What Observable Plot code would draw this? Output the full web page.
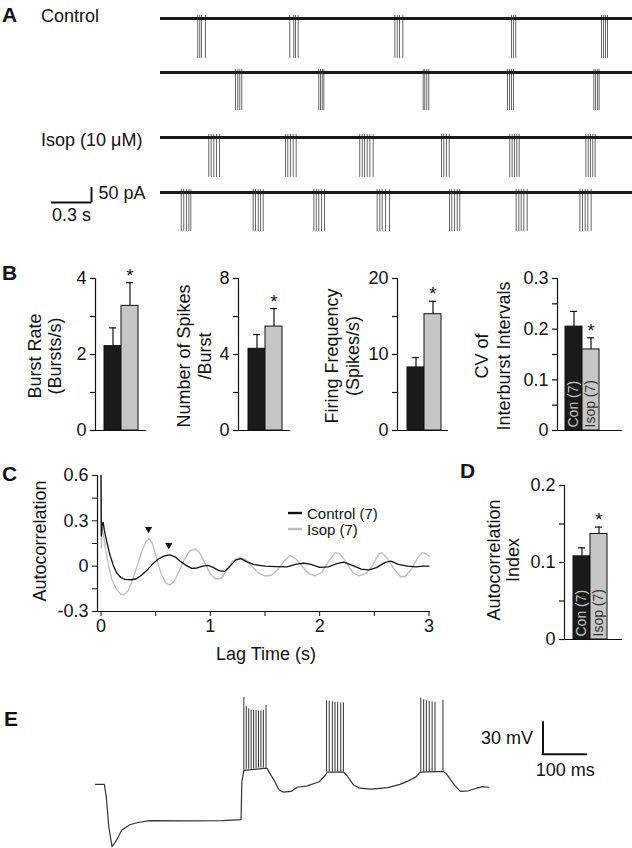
<!DOCTYPE html>
<html>
<head>
<meta charset="utf-8">
<script src="https://cdn.jsdelivr.net/npm/d3@7"></script>
<script src="https://cdn.jsdelivr.net/npm/@observablehq/plot@0.6"></script>
<style>
  html, body { margin: 0; padding: 0; background: #fff; }
  #fig { position: relative; width: 632px; height: 848px; overflow: hidden; background: #fff;
         font-family: "Liberation Sans", Arial, Helvetica, sans-serif; color: #111; }
</style>
</head>
<body>
<div id="fig"></div>
<script>
// ======================= DATA =======================
// ---- Panel A: spike (action current) times in seconds, one array per trace ----
const traceLabels = ["Control", "", "Isop (10 μM)", ""];
const spikesRow1 = [0.280, 0.295, 0.308, 0.338, 0.972, 1.002, 1.015, 1.035, 1.762, 1.780, 1.797, 1.822,
                    2.639, 2.654, 2.671, 3.316, 3.331, 3.346, 3.361];
const spikesRow2 = [0.564, 0.581, 0.596, 0.611, 1.190, 1.203, 1.216, 1.228, 1.975, 1.987, 2.002, 2.017,
                    2.609, 2.624, 2.639, 2.654, 3.258, 3.271, 3.286, 3.298];
const spikesRow3 = [0.363, 0.381, 0.401, 0.421, 0.444, 0.940, 0.957, 0.977, 0.998, 1.020,
                    1.498, 1.517, 1.534, 1.554, 1.574, 1.599, 2.113, 2.130, 2.150, 2.171,
                    2.626, 2.644, 2.662, 2.679, 2.697, 3.198, 3.216, 3.233, 3.250, 3.268];
const spikesRow4 = [0.156, 0.175, 0.195, 0.213, 0.228, 0.697, 0.714, 0.735, 0.752, 0.772,
                    1.153, 1.171, 1.190, 1.211, 1.233, 1.629, 1.649, 1.667, 1.692, 1.722,
                    2.173, 2.190, 2.211, 2.231, 2.250, 2.674, 2.694, 2.712, 2.732, 2.757,
                    3.153, 3.173, 3.193, 3.213, 3.238];
const spikeAmplitudePA = [133, 127, 133, 130];   // downward deflection (pA)
const spikeOvershootPA = 10;
const traceDurationS = 3.55;
const scaleA = {time: 0.3, current: 50, timeLabel: "0.3 s", currentLabel: "50 pA"};

// ---- Panel B ----
const groups = ["Con (7)", "Isop (7)"];
const significant = [false, true];
const burstRate = [2.22, 3.28],      burstRateErr = [0.48, 0.61];
const spikesPerBurst = [4.3, 5.47],  spikesPerBurstErr = [0.75, 0.95];
const firingFreq = [8.3, 15.3],      firingFreqErr = [1.3, 1.7];
const cvIBI = [0.205, 0.160],        cvIBIErr = [0.030, 0.023];
const ticksB1 = [0, 1, 2, 3, 4],       labelsB1 = ["0", "", "2", "", "4"];
const ticksB2 = [0, 2, 4, 6, 8],       labelsB2 = ["0", "", "4", "", "8"];
const ticksB3 = [0, 5, 10, 15, 20],    labelsB3 = ["0", "", "10", "", "20"];
const ticksB4 = [0, 0.05, 0.1, 0.15, 0.2, 0.25, 0.3], labelsB4 = ["0", "", "0.1", "", "0.2", "", "0.3"];
const titlesB = [["Burst Rate", "(Bursts/s)"], ["Number of Spikes", "/Burst"],
                 ["Firing Frequency", "(Spikes/s)"], ["CV of", "Interburst Intervals"]];

// ---- Panel C: autocorrelation vs lag (s) ----
const lagControl = [0, 0.003, 0.01, 0.02, 0.03, 0.05, 0.08, 0.11, 0.14, 0.18, 0.22, 0.27, 0.32, 0.37, 0.43,
  0.48, 0.53, 0.58, 0.63, 0.68, 0.73, 0.78, 0.83, 0.88, 0.93, 0.98, 1.03, 1.08, 1.13, 1.18, 1.23, 1.28,
  1.33, 1.40, 1.50, 1.60, 1.70, 1.78, 1.85, 1.92, 2.00, 2.08, 2.15, 2.22, 2.30, 2.38, 2.45, 2.52, 2.60,
  2.65, 2.72, 2.80, 2.88, 2.95, 3.00];
const acControl = [0.6, 0.2, 0.27, 0.29, 0.24, 0.17, 0.08, 0.01, -0.04, -0.075, -0.087, -0.09, -0.085, -0.06, -0.02,
  0.02, 0.05, 0.068, 0.075, 0.06, 0.03, 0.005, -0.015, -0.012, 0.0, 0.005, -0.01, -0.03, -0.035, 0.0, 0.04, 0.05,
  0.03, 0.01, 0.0, -0.003, -0.005, 0.012, 0.02, 0.012, -0.008, -0.005, 0.015, 0.027, 0.005, -0.02, -0.025, -0.01, 0.025,
  0.033, 0.012, 0.0, -0.005, 0.0, 0.0];
const lagIsop = [0, 0.003, 0.01, 0.02, 0.04, 0.07, 0.10, 0.14, 0.18, 0.21, 0.25, 0.29, 0.33, 0.37, 0.41, 0.44,
  0.47, 0.51, 0.55, 0.59, 0.63, 0.67, 0.71, 0.76, 0.81, 0.86, 0.90, 0.95, 1.00, 1.05, 1.10, 1.15, 1.20, 1.27,
  1.32, 1.38, 1.44, 1.50, 1.56, 1.62, 1.68, 1.73, 1.78, 1.84, 1.90, 1.96, 2.02, 2.08, 2.14, 2.18, 2.24, 2.30,
  2.36, 2.42, 2.48, 2.54, 2.57, 2.62, 2.68, 2.74, 2.78, 2.84, 2.90, 2.94, 2.98, 3.00];
const acIsop = [0.6, 0.12, 0.25, 0.22, 0.12, 0.0, -0.09, -0.15, -0.185, -0.19, -0.16, -0.09, 0.0, 0.09, 0.16, 0.185,
  0.15, 0.05, -0.05, -0.11, -0.125, -0.1, -0.04, 0.04, 0.1, 0.115, 0.09, 0.02, -0.05, -0.085, -0.08, -0.03, 0.03, 0.06,
  0.045, 0.0, -0.045, -0.065, -0.06, -0.02, 0.04, 0.07, 0.05, 0.0, -0.05, -0.065, -0.04, 0.03, 0.09, 0.085, 0.03, -0.04,
  -0.065, -0.05, 0.0, 0.08, 0.09, 0.05, -0.02, -0.07, -0.07, -0.02, 0.06, 0.09, 0.08, 0.065];
const peakMarkLag = [0.435, 0.62];
const peakMarkAC = [0.245, 0.14];
const ticksC_y = [-0.3, -0.15, 0, 0.15, 0.3, 0.45, 0.6], labelsC_y = ["-0.3", "", "0", "", "0.3", "", "0.6"];
const ticksC_x = [0, 0.5, 1, 1.5, 2, 2.5, 3],            labelsC_x = ["0", "", "1", "", "2", "", "3"];
const legendC = ["Control (7)", "Isop (7)"];

// ---- Panel D ----
const acIndex = [0.108, 0.137], acIndexErr = [0.011, 0.009];
const ticksD = [0, 0.05, 0.1, 0.15, 0.2], labelsD = ["0", "", "0.1", "", "0.2"];

// ---- Panel E: membrane potential (ms, mV) ----
const eTimeMs = [0, 20, 24.5, 30, 37.3, 45.5, 59, 77.3, 95.5, 122.7, 195.5, 286.4, 328.2, 330, 334.5, 386.4,
  393.6, 404.5, 413.6, 422.7, 440.9, 454.5, 477.3, 504.5, 518.2, 522.7, 559, 566.4, 581.8, 595.5, 622.7,
  659, 686.4, 704.5, 722.7, 731.8, 784.5, 790.9, 809.1, 822.7, 840.9, 859.1, 872.7, 886.4];
const eVm = [-60, -60, -72.6, -99.6, -117.7, -113.2, -102.6, -97.5, -95.4, -93.6, -93.9, -93.6, -92.7, -57.6, -47.1, -45,
  -50.1, -57.6, -65.1, -67.2, -66.6, -62.7, -61.5, -57.6, -51.6, -48.6, -48.6, -51.6, -60.6, -63.6, -64.5,
  -63, -60, -57, -53.1, -48.6, -48, -50.1, -60.6, -66.6, -66, -63.6, -62.1, -62.7];
const spikeTimesMs = [334.5, 340, 345.5, 351, 356.5, 362, 367.5, 373, 378.5, 384.5,
                      521, 527, 534, 540, 546, 553, 559,
                      733.5, 740, 746, 752.5, 759, 765.5, 783.5];
const spikePeakMv = [20.5, 12, 10, 9, 8.5, 8.5, 8, 8, 8.5, 13,
                     17.5, 17, 16.5, 16, 16, 15.5, 15.5,
                     20, 18.5, 17.5, 17, 16.5, 16, 18];
const spikeTroughMv = [-47, -46, -46, -46, -45.5, -45.5, -45, -45, -45, -45,
                       -48.6, -48.6, -48.6, -48.6, -48.6, -48.6, -48.6,
                       -48.6, -48.5, -48.4, -48.3, -48.2, -48.1, -48];
const scaleE = {time: 100, voltage: 30, timeLabel: "100 ms", voltageLabel: "30 mV"};

// ======================= LAYOUT / DRAWING =======================
const fig = document.getElementById("fig");
const FONT = '"Liberation Sans", Arial, Helvetica, sans-serif';
const INK = "#111";
const STYLE = `background:transparent;overflow:visible;font-family:${FONT};font-size:18px;color:${INK};`;
function place(svg, left, top) {
  svg.style.position = "absolute";
  svg.style.left = left + "px";
  svg.style.top = top + "px";
  svg.style.maxWidth = "none";
  fig.appendChild(svg);
}
const lookup = (ticks, labels) => d => labels[ticks.indexOf(d)] ?? "";

// ---- Panel A ----
const rowSpikes = [spikesRow1, spikesRow2, spikesRow3, spikesRow4];
const rowBaseY = [18, 72, 137, 192];
const pxPerPA = 0.3, pxPerS = 133, traceX0 = 160;
rowSpikes.forEach((times, k) => {
  const top = rowBaseY[k] - 20, h = 70;
  const yDom = [-(h - 20) / pxPerPA, 20 / pxPerPA];
  const xDom = [-traceX0 / pxPerS, (632 - traceX0) / pxPerS];
  const marks = [
    Plot.ruleX(times, {x: d => d, y1: spikeOvershootPA, y2: -spikeAmplitudePA[k], stroke: "#555", strokeWidth: 0.9}),
    Plot.ruleY([0], {x1: 0, x2: traceDurationS, stroke: "#1a1a1a", strokeWidth: 2.8})
  ];
  if (k === 3) {
    const xEnd = (91 - traceX0) / pxPerS, yBot = -(202 - rowBaseY[k]) / pxPerPA;
    const bar = [{x: xEnd, y: yBot}];
    marks.push(
      Plot.ruleX(bar, {x: "x", y1: "y", y2: d => d.y + scaleA.current, stroke: INK, strokeWidth: 2}),
      Plot.ruleY(bar, {y: "y", x1: d => d.x - scaleA.time, x2: d => d.x + 0.004, stroke: INK, strokeWidth: 2}),
      Plot.text(bar, {x: "x", y: d => d.y + scaleA.current / 2 + 5, text: () => scaleA.currentLabel, textAnchor: "start", dx: 7, fontSize: 18}),
      Plot.text(bar, {x: d => d.x - scaleA.time / 2, y: "y", text: () => scaleA.timeLabel, lineAnchor: "top", dy: 6, fontSize: 18})
    );
  }
  const svg = Plot.plot({
    width: 632, height: h, margin: 0,
    x: {domain: xDom, range: [0, 632], axis: null},
    y: {domain: yDom, range: [h, 0], axis: null},
    style: STYLE, marks
  });
  place(svg, 0, top);
});

// ---- Bar charts (B1-B4, D) ----
function barChart(cfg) {
  const {values, errors, ticks, labels, domain, axisX, bars, endX, topY, zeroY, inLabels} = cfg;
  const left = axisX - 90, top = topY - 14;
  const data = groups.map((g, i) => ({g, v: values[i], e: errors[i], s: significant[i], i}));
  const marks = [
    Plot.barY(data, {x: "g", y: "v", fill: "g", stroke: INK, strokeWidth: 1}),
    Plot.ruleX(data, {x: "g", y1: "v", y2: d => d.v + d.e, stroke: INK, strokeWidth: 1.2}),
    Plot.tickY(data, {x: "g", y: d => d.v + d.e, insetLeft: 5, insetRight: 5, stroke: INK, strokeWidth: 1.2}),
    Plot.text(data.filter(d => d.s), {x: "g", y: d => d.v + d.e, text: () => "*", dy: -7, fontSize: 19}),
    Plot.frame({anchor: "left", stroke: INK, strokeWidth: 1.2}),
    Plot.ruleY([0], {stroke: INK, strokeWidth: 1.2}),
    Plot.axisY({ticks, tickSize: 5, tickPadding: 4, tickFormat: lookup(ticks, labels), fontSize: 18, strokeWidth: 1.2, label: null})
  ];
  if (inLabels) {
    marks.push(
      Plot.text(data.filter(d => d.i === 0), {x: "g", y: 0, text: "g", rotate: -90, textAnchor: "start", dy: -3, fontSize: 14, fill: "#c8c8c8"}),
      Plot.text(data.filter(d => d.i === 1), {x: "g", y: 0, text: "g", rotate: -90, textAnchor: "start", dy: -3, fontSize: 14, fill: "#333"})
    );
  }
  const h = zeroY - top + 14;
  const svg = Plot.plot({
    width: endX - left + 4, height: h,
    marginLeft: 90, marginRight: 4, marginTop: 14, marginBottom: 14,
    x: {type: "band", domain: groups, range: [bars[0] - left, bars[1] - left], padding: 0, axis: null, label: null},
    y: {domain, axis: null, label: null},
    color: {domain: groups, range: ["#1a1a1a", "#c6c6c6"]},
    style: STYLE, marks
  });
  place(svg, left, top);
}
const bLayout = [
  {axisX: 95,  bars: [103, 138], endX: 146},
  {axisX: 238, bars: [248, 282], endX: 290},
  {axisX: 397, bars: [406, 441], endX: 448},
  {axisX: 557, bars: [565, 599], endX: 622}
];
const bData = [
  {values: burstRate, errors: burstRateErr, ticks: ticksB1, labels: labelsB1, domain: [0, 4]},
  {values: spikesPerBurst, errors: spikesPerBurstErr, ticks: ticksB2, labels: labelsB2, domain: [0, 8]},
  {values: firingFreq, errors: firingFreqErr, ticks: ticksB3, labels: labelsB3, domain: [0, 20]},
  {values: cvIBI, errors: cvIBIErr, ticks: ticksB4, labels: labelsB4, domain: [0, 0.3], inLabels: true}
];
bData.forEach((d, k) => barChart({...d, ...bLayout[k], topY: 278, zeroY: 430}));
barChart({values: acIndex, errors: acIndexErr, ticks: ticksD, labels: labelsD, domain: [0, 0.2],
          axisX: 564, bars: [572, 607], endX: 622, topY: 485, zeroY: 639, inLabels: true});

// ---- Panel C ----
{
  const top = 465, h = 190, w = 440;
  const ctl = lagControl.map((x, i) => ({x, y: acControl[i]}));
  const iso = lagIsop.map((x, i) => ({x, y: acIsop[i]}));
  const marks3 = peakMarkLag.map((x, i) => ({x, y: peakMarkAC[i]}));
  const svg = Plot.plot({
    width: w, height: h, marginLeft: 97, marginRight: w - 429, marginTop: 475 - top, marginBottom: top + h - 611,
    x: {domain: [0, 3], range: [100.5, 428.5], axis: null, label: null},
    y: {domain: [-0.3, 0.6], axis: null, label: null},
    style: STYLE,
    marks: [
      Plot.line(iso, {x: "x", y: "y", stroke: "#bdbdbd", strokeWidth: 1.3}),
      Plot.line(ctl, {x: "x", y: "y", stroke: "#111", strokeWidth: 1.3}),
      Plot.dot(marks3, {x: "x", y: "y", symbol: "triangle", rotate: 180, r: 2.7, fill: "#111", stroke: null}),
      Plot.frame({anchor: "left", stroke: INK, strokeWidth: 1.2}),
      Plot.frame({anchor: "bottom", stroke: INK, strokeWidth: 1.2}),
      Plot.axisY({ticks: ticksC_y, tickSize: 5, tickPadding: 4, tickFormat: lookup(ticksC_y, labelsC_y), fontSize: 18, label: null}),
      Plot.axisX({ticks: ticksC_x, tickSize: 5, tickPadding: 3, tickFormat: lookup(ticksC_x, labelsC_x), fontSize: 18, label: null})
    ]
  });
  place(svg, 0, top);
}

// ---- Panel E ----
{
  const top = 680, h = 168;
  const trace = eTimeMs.map((t, i) => ({t, v: eVm[i]}));
  const spikes = spikeTimesMs.map((t, i) => ({t, lo: spikeTroughMv[i], hi: spikePeakMv[i]}));
  const bar = [{t: 1009, v: -32}];
  const svg = Plot.plot({
    width: 632, height: h, margin: 0,
    x: {domain: [0, 1000], range: [95, 538.5], axis: null},
    y: {domain: [-120, 30], range: [168.5, 6.8], axis: null},
    style: STYLE,
    marks: [
      Plot.ruleX(spikes, {x: "t", y1: "lo", y2: "hi", stroke: "#333", strokeWidth: 1}),
      Plot.line(trace, {x: "t", y: "v", stroke: "#333", strokeWidth: 1.2}),
      Plot.ruleX(bar, {x: "t", y1: "v", y2: d => d.v + scaleE.voltage, stroke: INK, strokeWidth: 2}),
      Plot.ruleY(bar, {y: "v", x1: d => d.t - 2, x2: d => d.t + scaleE.time, stroke: INK, strokeWidth: 2}),
      Plot.text(bar, {x: "t", y: d => d.v + scaleE.voltage / 2, text: () => scaleE.voltageLabel, textAnchor: "end", dx: -10, fontSize: 18}),
      Plot.text(bar, {x: d => d.t + scaleE.time / 2, y: "v", text: () => scaleE.timeLabel, lineAnchor: "top", dy: 9, fontSize: 18})
    ]
  });
  place(svg, 0, top);
}

// ---- Text overlay: panel letters, axis titles, legend ----
{
  const ns = "http://www.w3.org/2000/svg";
  const svg = document.createElementNS(ns, "svg");
  svg.setAttribute("width", 632); svg.setAttribute("height", 848);
  svg.setAttribute("style", `position:absolute;left:0;top:0;font-family:${FONT};fill:${INK};pointer-events:none`);
  const add = (tag, attrs, text) => {
    const el = document.createElementNS(ns, tag);
    for (const k in attrs) el.setAttribute(k, attrs[k]);
    if (text != null) el.textContent = text;
    svg.appendChild(el);
    return el;
  };
  // panel letters
  [["A", 2, 22], ["B", 2, 280], ["C", 2, 481], ["D", 460, 478], ["E", 4, 726]].forEach(([t, x, y]) =>
    add("text", {x, y, "font-size": 21, "font-weight": "bold"}, t));
  // trace labels in A
  add("text", {x: 41, y: 22, "font-size": 18}, traceLabels[0]);
  add("text", {x: 41, y: 146, "font-size": 18}, traceLabels[2]);
  // rotated axis titles
  const rot = (lines, x, y, gap) => {
    const t = add("text", {transform: `translate(${x},${y}) rotate(-90)`, "text-anchor": "middle", "font-size": 18});
    lines.forEach((s, i) => {
      const sp = document.createElementNS(ns, "tspan");
      sp.setAttribute("x", 0); sp.setAttribute("y", i * gap);
      sp.textContent = s; t.appendChild(sp);
    });
  };
  rot(titlesB[0], 41, 356, 20);
  rot(titlesB[1], 190, 356, 21);
  rot(titlesB[2], 338, 356, 21);
  rot(titlesB[3], 488, 356, 22);
  rot(["Autocorrelation"], 46, 541, 20);
  rot(["Autocorrelation", "Index"], 500, 560, 19);
  // C x title
  add("text", {x: 266, y: 660, "text-anchor": "middle", "font-size": 18}, "Lag Time (s)");
  // C legend
  add("line", {x1: 288, x2: 302, y1: 513, y2: 513, stroke: "#111", "stroke-width": 2.4});
  add("line", {x1: 288, x2: 302, y1: 529, y2: 529, stroke: "#bdbdbd", "stroke-width": 2.4});
  add("text", {x: 307, y: 518.5, "font-size": 15}, legendC[0]);
  add("text", {x: 307, y: 534.5, "font-size": 15}, legendC[1]);
  fig.appendChild(svg);
}
</script>
</body>
</html>
